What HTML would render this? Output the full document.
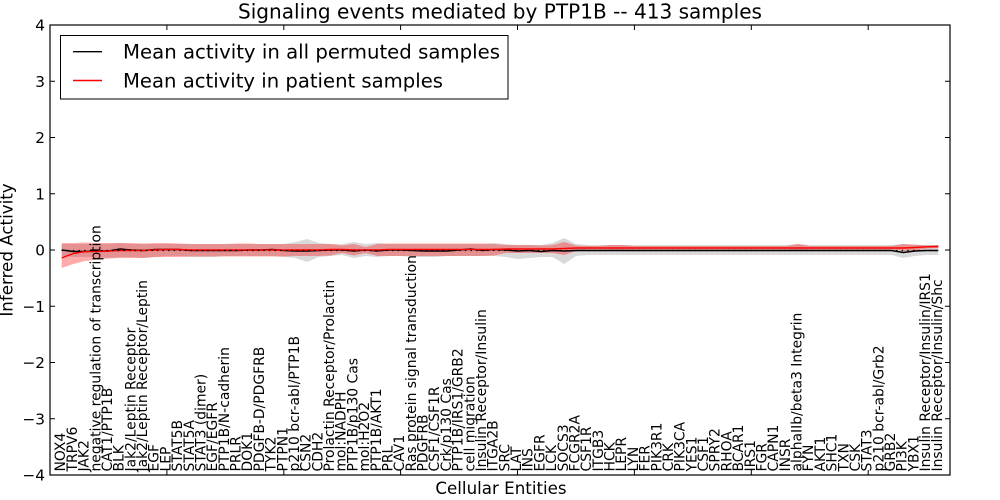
<!DOCTYPE html>
<html><head><meta charset="utf-8"><style>
html,body{margin:0;padding:0;background:#fff;}
svg{display:block;}
text{font-family:"DejaVu Sans","Liberation Sans",sans-serif;fill:#000;}
</style></head><body>
<svg width="1000" height="500" viewBox="0 0 1000 500" xmlns="http://www.w3.org/2000/svg">
<rect x="0" y="0" width="1000" height="500" fill="#fff"/>
<!-- gray band -->
<polygon fill="#000" fill-opacity="0.15" stroke="none" points="61.7,244 73.4,244 85.1,244 96.8,244 108.4,244 120.1,243 131.8,244 143.5,244 155.2,244 166.9,244 178.6,244 190.3,244 201.9,244 213.6,244 225.3,244 237,244 248.7,244 260.4,244 272.1,244 283.8,244 295.5,242 307.1,239 318.8,243 330.5,244 342.2,244 353.9,242 365.6,244 377.3,243 389,244 400.6,244 412.3,244 424,244 435.7,244 447.4,244 459.1,244 470.8,244 482.5,244 494.2,243 505.8,244 517.5,245 529.2,245 540.9,245 552.6,243 564.3,238 576,244 587.7,245 786.4,245 798.1,244 809.7,245 891.6,245 903.2,244 914.9,245 938.3,245 938.3,255 926.6,255 914.9,256 903.2,258 891.6,255 587.7,255 576,256 564.3,264 552.6,257 540.9,257 529.2,258 517.5,259 505.8,257 494.2,256 482.5,256 470.8,256 459.1,256 447.4,256 435.7,257 424,257 412.3,257 400.6,256 389,256 377.3,257 365.6,256 353.9,258 342.2,255 330.5,256 318.8,257 307.1,262 295.5,258 283.8,257 272.1,256 260.4,256 248.7,256 237,256 225.3,256 213.6,257 201.9,257 190.3,257 178.6,256 166.9,256 155.2,257 143.5,258 131.8,257 120.1,257 108.4,258 96.8,257 85.1,257 73.4,257 61.7,256"/>
<!-- red band -->
<polygon fill="#ff0000" fill-opacity="0.33" stroke="none" points="61.7,243 73.4,243 85.1,242.5 96.8,243 131.8,243 143.5,243.5 155.2,243 166.9,243 178.6,243.5 190.3,244 225.3,244 237,243.5 248.7,243.5 260.4,244 330.5,244 342.2,245.5 353.9,244 365.6,247 377.3,244 389,243.5 482.5,243.5 494.2,244 505.8,245 529.2,245 540.9,245.5 552.6,245 564.3,242 576,245.5 587.7,246 599.4,246 611,245 622.7,245 634.4,246 786.4,246 798.1,244 809.7,246 891.6,246 903.2,244 914.9,244.5 926.6,245.5 938.3,245 938.3,248 926.6,248.5 914.9,250.5 903.2,251 891.6,249.5 809.7,249.5 798.1,251 786.4,249.5 634.4,249.5 622.7,250 611,250 599.4,249.5 587.7,249.5 576,251 564.3,255 552.6,253 505.8,253 494.2,255.5 482.5,256 377.3,256 365.6,253 353.9,255.5 342.2,253 330.5,255.5 318.8,256 295.5,256 283.8,256.5 190.3,256.5 178.6,257 155.2,257 143.5,258 120.1,258 108.4,258.5 96.8,259.5 85.1,261 73.4,264 61.7,268"/>
<!-- black mean line -->
<polyline fill="none" stroke="#000" stroke-width="1.4" points="61.7,250 73.4,251.5 85.1,251.5 96.8,251 108.4,251 120.1,249 131.8,250 143.5,250.5 155.2,249.5 166.9,249.5 178.6,249.5 190.3,250.5 201.9,250.5 213.6,250.5 225.3,250.5 237,250.5 248.7,250 260.4,250 272.1,249.5 283.8,250.5 295.5,251 307.1,251 318.8,250.5 330.5,250 342.2,250 353.9,251 365.6,250 377.3,251 389,250 400.6,250 412.3,250.5 424,251 435.7,251 447.4,251 459.1,250 470.8,249 482.5,250.5 494.2,249.5 505.8,250 517.5,251 529.2,250.5 540.9,251.5 552.6,250.5 564.3,251 576,250.5 891.6,250.5 903.2,252.5 914.9,251 926.6,250.5 938.3,250.5"/>
<!-- red mean line -->
<polyline fill="none" stroke="#ff0000" stroke-width="1.4" points="61.7,257.9 73.4,253.5 85.1,251.5 96.8,251.5 108.4,251 120.1,250.5 143.5,250.5 155.2,250 166.9,249.5 178.6,249.5 190.3,250 318.8,250 330.5,249.5 342.2,249.5 353.9,250 377.3,250 389,249.5 494.2,249.5 505.8,249 552.6,249 564.3,248.5 576,248 903.2,248 914.9,247.5 926.6,246.8 938.3,246.5"/>
<!-- dotted zero line -->
<line x1="61.7" y1="250.5" x2="938.3" y2="250.5" stroke="#000" stroke-width="1.2" stroke-dasharray="1.4 4.2"/>

<!-- axes frame -->
<rect x="50" y="25" width="900" height="450" fill="none" stroke="#000" stroke-width="1.2"/>
<!-- y ticks -->
<g stroke="#000" stroke-width="1">
<line x1="50" y1="25" x2="55" y2="25"/><line x1="945" y1="25" x2="950" y2="25"/>
<line x1="50" y1="81.25" x2="55" y2="81.25"/><line x1="945" y1="81.25" x2="950" y2="81.25"/>
<line x1="50" y1="137.5" x2="55" y2="137.5"/><line x1="945" y1="137.5" x2="950" y2="137.5"/>
<line x1="50" y1="193.75" x2="55" y2="193.75"/><line x1="945" y1="193.75" x2="950" y2="193.75"/>
<line x1="50" y1="250" x2="55" y2="250"/><line x1="945" y1="250" x2="950" y2="250"/>
<line x1="50" y1="306.25" x2="55" y2="306.25"/><line x1="945" y1="306.25" x2="950" y2="306.25"/>
<line x1="50" y1="362.5" x2="55" y2="362.5"/><line x1="945" y1="362.5" x2="950" y2="362.5"/>
<line x1="50" y1="418.75" x2="55" y2="418.75"/><line x1="945" y1="418.75" x2="950" y2="418.75"/>
<line x1="50" y1="475" x2="55" y2="475"/><line x1="945" y1="475" x2="950" y2="475"/>
<!-- x ticks -->
<line x1="166.9" y1="25" x2="166.9" y2="30"/><line x1="166.9" y1="470" x2="166.9" y2="475"/>
<line x1="283.8" y1="25" x2="283.8" y2="30"/><line x1="283.8" y1="470" x2="283.8" y2="475"/>
<line x1="400.6" y1="25" x2="400.6" y2="30"/><line x1="400.6" y1="470" x2="400.6" y2="475"/>
<line x1="517.5" y1="25" x2="517.5" y2="30"/><line x1="517.5" y1="470" x2="517.5" y2="475"/>
<line x1="634.4" y1="25" x2="634.4" y2="30"/><line x1="634.4" y1="470" x2="634.4" y2="475"/>
<line x1="751.3" y1="25" x2="751.3" y2="30"/><line x1="751.3" y1="470" x2="751.3" y2="475"/>
<line x1="868.2" y1="25" x2="868.2" y2="30"/><line x1="868.2" y1="470" x2="868.2" y2="475"/>
</g>
<!-- y tick labels -->
<g font-size="15.3" text-anchor="end">
<text x="45" y="30.5">4</text>
<text x="45" y="86.8">3</text>
<text x="45" y="143">2</text>
<text x="45" y="199.3">1</text>
<text x="45" y="255.5">0</text>
<text x="45" y="311.8">−1</text>
<text x="45" y="368">−2</text>
<text x="45" y="424.3">−3</text>
<text x="45" y="480.5">−4</text>
</g>
<!-- title and axis labels -->
<text x="500" y="18.3" font-size="20" text-anchor="middle" textLength="524" lengthAdjust="spacingAndGlyphs">Signaling events mediated by PTP1B -- 413 samples</text>
<text x="501" y="494" font-size="16.7" text-anchor="middle">Cellular Entities</text>
<text transform="translate(12.5,250) rotate(-90)" font-size="16.7" text-anchor="middle">Inferred Activity</text>

<!-- legend -->
<rect x="60.5" y="35.5" width="447.5" height="63.5" fill="#fff" stroke="#000" stroke-width="1"/>
<line x1="73" y1="51.7" x2="102" y2="51.7" stroke="#000" stroke-width="1.4"/>
<line x1="73" y1="80.5" x2="102" y2="80.5" stroke="#ff0000" stroke-width="1.4"/>
<text x="123" y="58.5" font-size="19.6" textLength="377" lengthAdjust="spacingAndGlyphs">Mean activity in all permuted samples</text>
<text x="123" y="87.5" font-size="19.6" textLength="320" lengthAdjust="spacingAndGlyphs">Mean activity in patient samples</text>

<!-- x tick labels -->
<g font-size="13.9">
<text transform="translate(65.2,471.5) rotate(-90)">NOX4</text>
<text transform="translate(76.9,471.5) rotate(-90)">TRPV6</text>
<text transform="translate(88.6,471.5) rotate(-90)">JAK2</text>
<text transform="translate(100.3,471.5) rotate(-90)">negative regulation of transcription</text>
<text transform="translate(111.9,471.5) rotate(-90)">CAT1/PTP1B</text>
<text transform="translate(123.6,471.5) rotate(-90)">BLK</text>
<text transform="translate(135.3,471.5) rotate(-90)">Jak2/Leptin Receptor</text>
<text transform="translate(147.0,471.5) rotate(-90)">Jak2/Leptin Receptor/Leptin</text>
<text transform="translate(158.7,471.5) rotate(-90)">EGF</text>
<text transform="translate(170.4,471.5) rotate(-90)">LEP</text>
<text transform="translate(182.1,471.5) rotate(-90)">STAT5B</text>
<text transform="translate(193.8,471.5) rotate(-90)">STAT5A</text>
<text transform="translate(205.4,471.5) rotate(-90)">STAT3 (dimer)</text>
<text transform="translate(217.1,471.5) rotate(-90)">EGF/EGFR</text>
<text transform="translate(228.8,471.5) rotate(-90)">PTP1B/N-cadherin</text>
<text transform="translate(240.5,471.5) rotate(-90)">PRLR</text>
<text transform="translate(252.2,471.5) rotate(-90)">DOK1</text>
<text transform="translate(263.9,471.5) rotate(-90)">PDGFB-D/PDGFRB</text>
<text transform="translate(275.6,471.5) rotate(-90)">TYK2</text>
<text transform="translate(287.3,471.5) rotate(-90)">PTPN1</text>
<text transform="translate(299.0,471.5) rotate(-90)">p210 bcr-abl/PTP1B</text>
<text transform="translate(310.6,471.5) rotate(-90)">CSN2</text>
<text transform="translate(322.3,471.5) rotate(-90)">CDH2</text>
<text transform="translate(334.0,471.5) rotate(-90)">Prolactin Receptor/Prolactin</text>
<text transform="translate(345.7,471.5) rotate(-90)">mol:NADPH</text>
<text transform="translate(357.4,471.5) rotate(-90)">PTP1B/p130 Cas</text>
<text transform="translate(369.1,471.5) rotate(-90)">mol:H2O2</text>
<text transform="translate(380.8,471.5) rotate(-90)">PTP1B/AKT1</text>
<text transform="translate(392.5,471.5) rotate(-90)">PRL</text>
<text transform="translate(404.1,471.5) rotate(-90)">CAV1</text>
<text transform="translate(415.8,471.5) rotate(-90)">Ras protein signal transduction</text>
<text transform="translate(427.5,471.5) rotate(-90)">PDGFRB</text>
<text transform="translate(439.2,471.5) rotate(-90)">CSF1/CSF1R</text>
<text transform="translate(450.9,471.5) rotate(-90)">Crk/p130 Cas</text>
<text transform="translate(462.6,471.5) rotate(-90)">PTP1B/IRS1/GRB2</text>
<text transform="translate(474.3,471.5) rotate(-90)">cell migration</text>
<text transform="translate(486.0,471.5) rotate(-90)">Insulin Receptor/Insulin</text>
<text transform="translate(497.7,471.5) rotate(-90)">ITGA2B</text>
<text transform="translate(509.3,471.5) rotate(-90)">SRC</text>
<text transform="translate(521.0,471.5) rotate(-90)">LAT</text>
<text transform="translate(532.7,471.5) rotate(-90)">INS</text>
<text transform="translate(544.4,471.5) rotate(-90)">EGFR</text>
<text transform="translate(556.1,471.5) rotate(-90)">LCK</text>
<text transform="translate(567.8,471.5) rotate(-90)">SOCS3</text>
<text transform="translate(579.5,471.5) rotate(-90)">FCGR2A</text>
<text transform="translate(591.2,471.5) rotate(-90)">CSF1R</text>
<text transform="translate(602.9,471.5) rotate(-90)">ITGB3</text>
<text transform="translate(614.5,471.5) rotate(-90)">HCK</text>
<text transform="translate(626.2,471.5) rotate(-90)">LEPR</text>
<text transform="translate(637.9,471.5) rotate(-90)">LYN</text>
<text transform="translate(649.6,471.5) rotate(-90)">FER</text>
<text transform="translate(661.3,471.5) rotate(-90)">PIK3R1</text>
<text transform="translate(673.0,471.5) rotate(-90)">CRK</text>
<text transform="translate(684.7,471.5) rotate(-90)">PIK3CA</text>
<text transform="translate(696.4,471.5) rotate(-90)">YES1</text>
<text transform="translate(708.0,471.5) rotate(-90)">CSF1</text>
<text transform="translate(719.7,471.5) rotate(-90)">SPRY2</text>
<text transform="translate(731.4,471.5) rotate(-90)">RHOA</text>
<text transform="translate(743.1,471.5) rotate(-90)">BCAR1</text>
<text transform="translate(754.8,471.5) rotate(-90)">IRS1</text>
<text transform="translate(766.5,471.5) rotate(-90)">FGR</text>
<text transform="translate(778.2,471.5) rotate(-90)">CAPN1</text>
<text transform="translate(789.9,471.5) rotate(-90)">INSR</text>
<text transform="translate(801.6,471.5) rotate(-90)">alphaIIb/beta3 Integrin</text>
<text transform="translate(813.2,471.5) rotate(-90)">FYN</text>
<text transform="translate(824.9,471.5) rotate(-90)">AKT1</text>
<text transform="translate(836.6,471.5) rotate(-90)">SHC1</text>
<text transform="translate(848.3,471.5) rotate(-90)">TXN</text>
<text transform="translate(860.0,471.5) rotate(-90)">CSK</text>
<text transform="translate(871.7,471.5) rotate(-90)">STAT3</text>
<text transform="translate(883.4,471.5) rotate(-90)">p210 bcr-abl/Grb2</text>
<text transform="translate(895.1,471.5) rotate(-90)">GRB2</text>
<text transform="translate(906.7,471.5) rotate(-90)">PI3K</text>
<text transform="translate(918.4,471.5) rotate(-90)">YBX1</text>
<text transform="translate(930.1,471.5) rotate(-90)">Insulin Receptor/Insulin/IRS1</text>
<text transform="translate(941.8,471.5) rotate(-90)">Insulin Receptor/Insulin/Shc</text>
</g>
</svg>
</body></html>
